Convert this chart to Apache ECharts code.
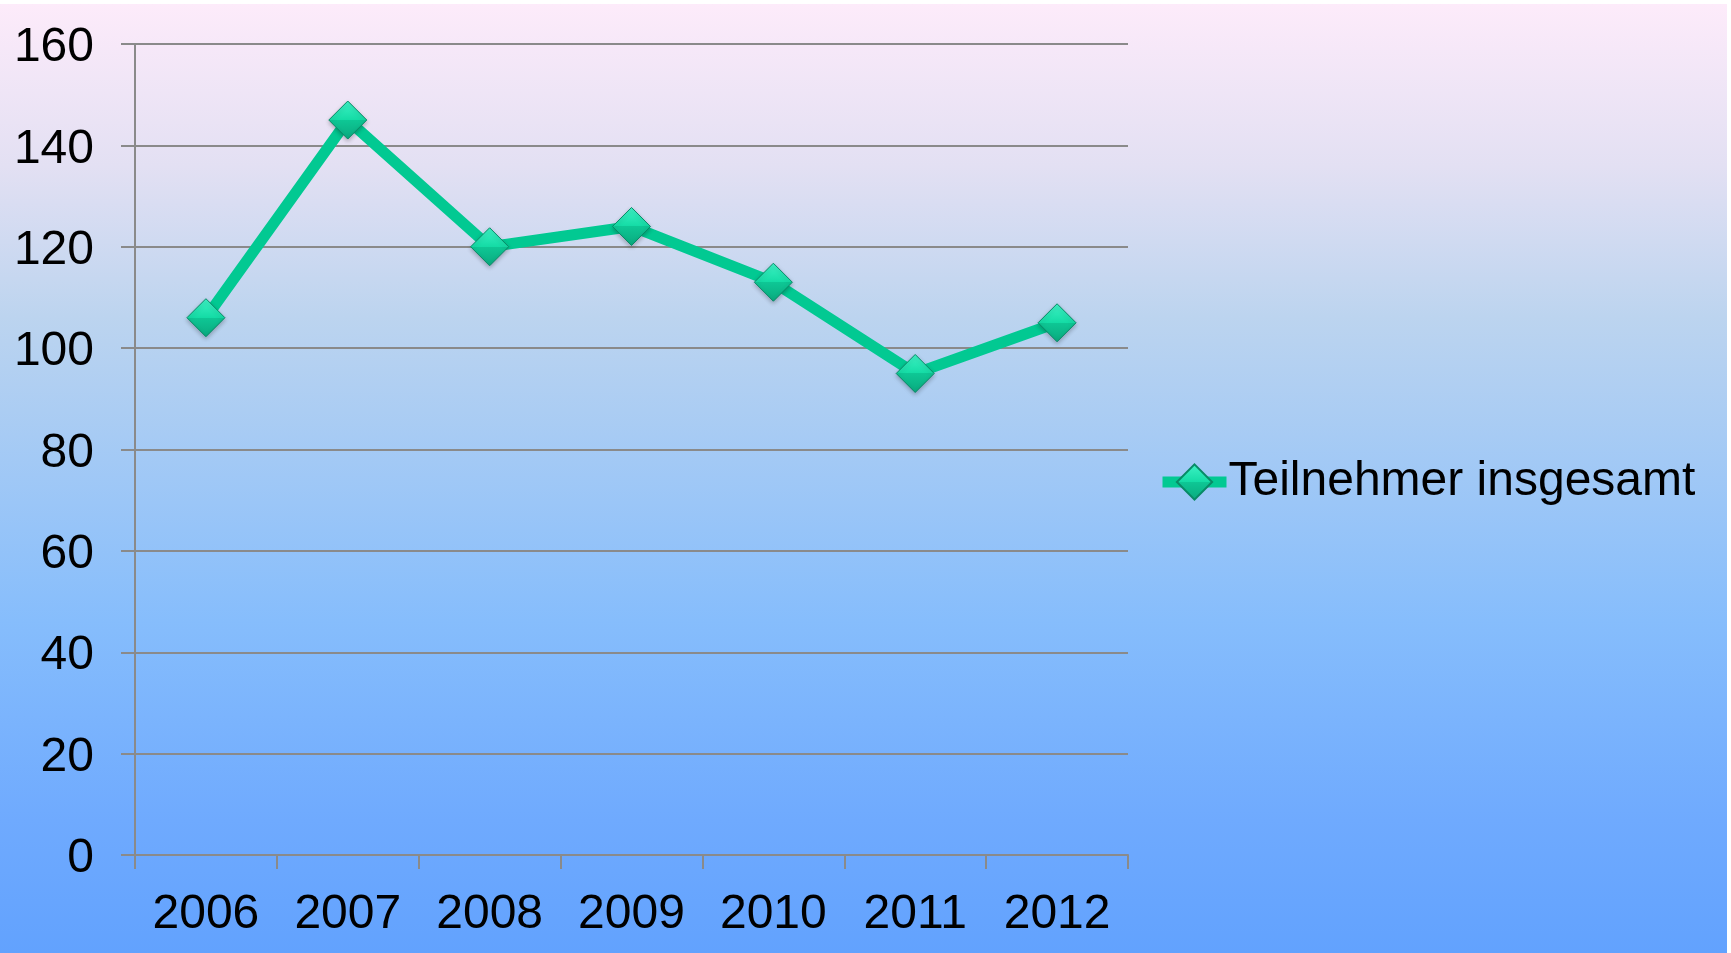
<!DOCTYPE html>
<html>
<head>
<meta charset="utf-8">
<script src="https://cdn.jsdelivr.net/npm/echarts@6/dist/echarts.min.js"></script>
<style>
  html, body { margin: 0; padding: 0; background: #ffffff; }
  #chart { position: absolute; left: 0; top: 4px; width: 1727px; height: 949px; }
</style>
</head>
<body>
<div id="chart"></div>
<script>
const years = ['2006', '2007', '2008', '2009', '2010', '2011', '2012'];
const teilnehmer = [106, 145, 120, 124, 113, 95, 105];
const seriesName = 'Teilnehmer insgesamt';

const myChart = echarts.init(document.getElementById('chart'));

const axisGray = '#8a8a8a';
const fontFamily = 'Liberation Sans, Arial, sans-serif';

const diamondFill = new echarts.graphic.LinearGradient(0, 0, 0, 1, [
  { offset: 0, color: '#3ff3c6' },
  { offset: 0.5, color: '#14dba5' },
  { offset: 0.5, color: '#0ec795' },
  { offset: 1, color: '#0aa97e' },
]);

const option = {
  backgroundColor: new echarts.graphic.LinearGradient(0, 0, 0, 1, [
    { offset: 0, color: '#fdebfa' },
    { offset: 0.17, color: '#e3e0f3' },
    { offset: 0.33, color: '#bcd4ef' },
    { offset: 0.65, color: '#86bdfc' },
    { offset: 0.86, color: '#6faafe' },
    { offset: 1, color: '#62a2fe' },
  ]),
  textStyle: { fontFamily: fontFamily },
  grid: {
    left: 135,
    right: 599,
    top: 40,
    bottom: 98,
  },
  legend: {
    left: 1152,
    top: 449,
    itemWidth: 64,
    itemHeight: 44,
    itemGap: 0,
    lineStyle: { width: 11 },
    textStyle: {
      fontSize: 48,
      color: '#000',
      fontFamily: fontFamily,
      padding: [0, 0, 0, -3],
    },
    data: [seriesName],
  },
  xAxis: {
    type: 'category',
    data: years,
    boundaryGap: true,
    axisLine: { show: true, lineStyle: { color: axisGray, width: 2 } },
    axisTick: {
      show: true,
      interval: 0,
      length: 14,
      lineStyle: { color: axisGray, width: 2 },
    },
    axisLabel: {
      fontSize: 48,
      color: '#000',
      margin: 36,
      interval: 0,
    },
  },
  yAxis: {
    type: 'value',
    min: 0,
    max: 160,
    interval: 20,
    axisLine: { show: true, lineStyle: { color: axisGray, width: 2 } },
    axisTick: {
      show: true,
      length: 14,
      lineStyle: { color: axisGray, width: 2 },
    },
    axisLabel: {
      color: '#000',
      margin: 41,
      formatter: '{v|{value}}',
      rich: {
        v: {
          fontSize: 48,
          color: '#000',
          fontFamily: fontFamily,
          padding: [8, 0, 0, 0],
        },
      },
    },
    splitLine: {
      show: true,
      lineStyle: { color: axisGray, width: 2 },
    },
  },
  series: [
    {
      name: seriesName,
      type: 'line',
      data: teilnehmer,
      symbol: 'diamond',
      symbolSize: 38,
      showAllSymbol: true,
      lineStyle: { color: '#02c992', width: 11, join: 'miter' },
      itemStyle: {
        color: diamondFill,
        borderColor: '#088a66',
        borderWidth: 1,
        shadowBlur: 4,
        shadowColor: 'rgba(0,0,0,0.25)',
        shadowOffsetY: 2,
      },
      emphasis: { disabled: true },
      animation: false,
    },
  ],
};

myChart.setOption(option);
</script>
</body>
</html>
